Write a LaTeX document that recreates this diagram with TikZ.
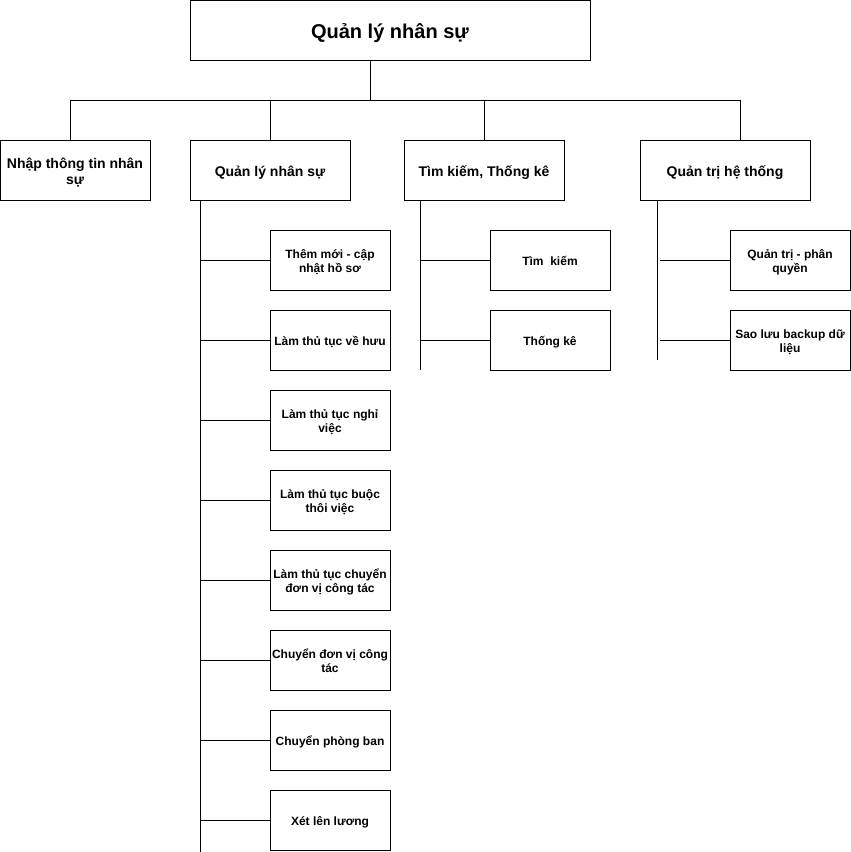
\documentclass[tikz,border=0pt]{standalone}
\usepackage{fontspec}
\setmainfont{Liberation Sans}
\newcommand{\tx}[2][3pt]{\raisebox{-#1}[\height][\depth]{\begin{tabular}{@{}c@{}}#2\end{tabular}}}
\begin{document}
\begin{tikzpicture}[x=1pt,y=-1pt,line width=1pt,
  box/.style={draw=black,fill=white,rectangle,inner sep=0pt,font=\bfseries},
  topbox/.style={box,minimum width=400pt,minimum height=60pt,font=\bfseries\fontsize{20}{24}\selectfont},
  lvbox/.style={box,minimum height=60pt,font=\bfseries\fontsize{14}{16}\selectfont},
  leaf/.style={box,minimum width=120pt,minimum height=60pt,font=\bfseries\fontsize{12}{14}\selectfont},
  link/.style={draw=black,line width=1pt}]
\useasboundingbox (0,0) rectangle (851,852);
% top
\node[topbox] (top) at (390,30) {\tx[4pt]{Quản lý nhân sự}};
% level 1
\node[lvbox,minimum width=150pt] (A) at (75,170) {\tx{Nhập thông tin nhân\\sự}};
\node[lvbox,minimum width=160pt] (B) at (270,170) {\tx{Quản lý nhân sự}};
\node[lvbox,minimum width=160pt] (C) at (484,170) {\tx{Tìm kiếm, Thống kê}};
\node[lvbox,minimum width=170pt] (D) at (725,170) {\tx{Quản trị hệ thống}};
% bus
\coordinate (t0) at (370,60);
\coordinate (t1) at (370,100);
\coordinate (bA) at (70,100);
\coordinate (bB) at (270,100);
\coordinate (bC) at (484,100);
\coordinate (bD) at (740,100);
\draw[link] (t0) -- (t1);
\draw[link] (bA) -- (bD);
\draw[link] (bA) -- (bA |- A.north);
\draw[link] (bB) -- (B.north);
\draw[link] (bC) -- (C.north);
\draw[link] (bD) -- (bD |- D.north);
% B children
\node[leaf] (b1) at (330,260) {\tx{Thêm mới - cập\\nhật hồ sơ}};
\node[leaf] (b2) at (330,340) {\tx{Làm thủ tục về hưu}};
\node[leaf] (b3) at (330,420) {\tx{Làm thủ tục nghỉ\\việc}};
\node[leaf] (b4) at (330,500) {\tx{Làm thủ tục buộc\\thôi việc}};
\node[leaf] (b5) at (330,580) {\tx{Làm thủ tục chuyển\\đơn vị công tác}};
\node[leaf] (b6) at (330,660) {\tx{Chuyển đơn vị công\\tác}};
\node[leaf] (b7) at (330,740) {\tx{Chuyển phòng ban}};
\node[leaf] (b8) at (330,820) {\tx{Xét lên lương}};
\coordinate (Bt) at (200,200);
\coordinate (Bb) at (200,852);
\draw[link] (Bt) -- (Bb);
\foreach \n in {b1,b2,b3,b4,b5,b6,b7,b8}{\draw[link] (Bt |- \n.west) -- (\n.west);}
% C children
\node[leaf] (c1) at (550,260) {\tx{Tìm\ \ kiếm}};
\node[leaf] (c2) at (550,340) {\tx{Thống kê}};
\coordinate (Ct) at (420,200);
\coordinate (Cb) at (420,370);
\draw[link] (Ct) -- (Cb);
\foreach \n in {c1,c2}{\draw[link] (Ct |- \n.west) -- (\n.west);}
% D children
\node[leaf] (d1) at (790,260) {\tx{Quản trị - phân\\quyền}};
\node[leaf] (d2) at (790,340) {\tx{Sao lưu backup dữ\\liệu}};
\coordinate (Dt) at (657,200);
\coordinate (Db) at (657,360);
\coordinate (Dh) at (660,0);
\draw[link] (Dt) -- (Db);
\foreach \n in {d1,d2}{\draw[link] (Dh |- \n.west) -- (\n.west);}
\end{tikzpicture}
\end{document}
